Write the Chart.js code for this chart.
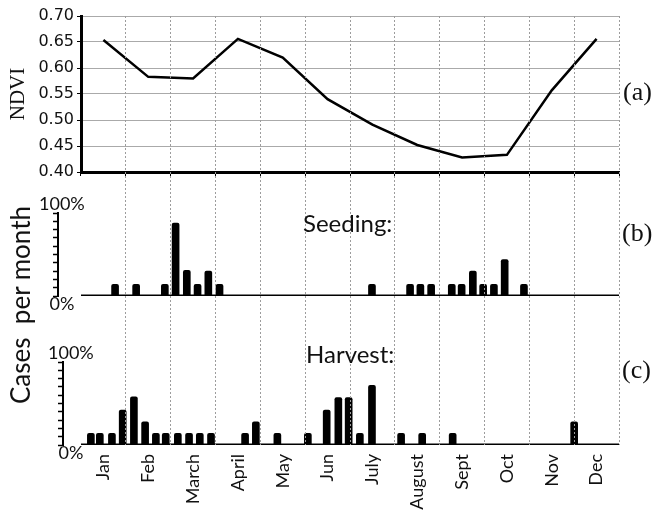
<!DOCTYPE html>
<html><head><meta charset="utf-8">
<script src="https://cdn.jsdelivr.net/npm/chart.js@4.4.0/dist/chart.umd.min.js"></script>
<style>
html,body{margin:0;padding:0;background:#fff;}
#wrap{position:relative;width:659px;height:521px;overflow:hidden;background:#fff;}
#wrap canvas{position:absolute;left:0;top:0;}
.t{position:absolute;white-space:pre;color:#111;line-height:1;}
</style></head><body>
<div id="wrap">
<canvas id="cA" width="659" height="521"></canvas>
<canvas id="cB" width="659" height="521"></canvas>
<canvas id="cC" width="659" height="521"></canvas>
<canvas id="cF" width="659" height="521"></canvas>
<div class="t" style="left:623px;top:77px;font:26px 'Liberation Serif';">(a)</div>
<div class="t" style="left:622px;top:218px;font:26px 'Liberation Serif';">(b)</div>
<div class="t" style="left:622px;top:355px;font:26px 'Liberation Serif';">(c)</div>
<div class="t" style="left:303px;top:208px;font:24px Lato;">Seeding:</div>
<div class="t" style="left:306px;top:339px;font:24px Lato;">Harvest:</div>
<div class="t" style="left:20px;top:305px;font:26px Lato;transform:translate(-50%,-50%) rotate(-90deg);">Cases  per month</div>
</div>
<script>
const months = ["Jan","Feb","March","April","May","Jun","July","August","Sept","Oct","Nov","Dec"];
const ndvi = [0.654,0.583,0.580,0.656,0.620,0.540,0.491,0.452,0.428,0.433,0.557,0.656];
const ndviTicks = [0.40,0.45,0.50,0.55,0.60,0.65,0.70];
// bar positions in months counted from 1 January (0 = start of Jan, 12 = end of Dec)
const seedingPos = [0.76,1.23,1.87,2.11,2.36,2.60,2.84,3.09,6.49,7.34,7.57,7.81,8.27,8.49,8.74,8.97,9.21,9.45,9.88];
const seedingPct = [14,14,14,88,31,14,30,14,14,14,14,14,14,14,30,14,14,44,14];
const harvestPos = [0.22,0.42,0.69,0.93,1.18,1.43,1.67,1.89,2.16,2.41,2.65,2.90,3.66,3.90,4.38,5.06,5.48,5.74,5.97,6.22,6.49,7.14,7.61,8.29,11.00];
const harvestPct = [14,14,14,42,58,28,14,14,14,14,14,14,14,28,14,14,42,57,57,14,72,14,14,14,28];
const pctTicks = [0,10,20,30,40,50,60,70,80,90,100];

Chart.defaults.font.family = 'Lato';
Chart.defaults.color = '#111';
const W = 659, H = 521;
const plotL = 81, plotR = 619;
const monthW = (plotR - plotL) / months.length;
const common = {responsive:false, animation:false, devicePixelRatio:1,
  plugins:{legend:{display:false}, tooltip:{enabled:false}, title:{display:false}}};

// (a) NDVI
new Chart(document.getElementById('cA'), {
  type:'line',
  data:{labels:months, datasets:[{data:ndvi, borderColor:'#000', borderWidth:2.5, pointRadius:0, tension:0, fill:false}]},
  options:Object.assign({}, common, {
    layout:{padding:{left:0, right:W-plotR, top:16, bottom:0}},
    scales:{
      x:{type:'category', offset:true,
         grid:{display:true, offset:true, drawOnChartArea:false, drawTicks:true, tickLength:4, color:'#000', tickColor:'#000', lineWidth:1},
         border:{display:true, color:'#000', width:3},
         ticks:{display:false},
         afterFit:s=>{s.height = H - 172;}},
      y:{min:0.40, max:0.70,
         afterBuildTicks:s=>{s.ticks = ndviTicks.map(v=>({value:v}));},
         ticks:{callback:v=>Number(v).toFixed(2), font:{family:'DejaVu Sans', size:16}, color:'#111', padding:3},
         grid:{color:'#aaa', lineWidth:1, tickColor:'#000', tickLength:4},
         border:{color:'#000', width:3},
         title:{display:true, text:'NDVI', font:{family:'Liberation Serif', size:21}, color:'#111', padding:{top:6, bottom:0}},
         afterFit:s=>{s.width = plotL;}}
    }
  })
});

function barPanel(id, pos, pct, axisX, top, bottom, labPad){
  const xMin = -(plotL - axisX) / monthW;
  return new Chart(document.getElementById(id), {
    type:'bar',
    data:{datasets:[
      {type:'line', data:[{x:0,y:0},{x:months.length,y:0}], borderColor:'#000', borderWidth:3, pointRadius:0, order:0},
      {type:'bar', data:pos.map((x,i)=>({x:x, y:pct[i]})), backgroundColor:'#000', barThickness:7,
       borderRadius:{topLeft:2, topRight:2, bottomLeft:0, bottomRight:0}, borderSkipped:'bottom', order:1}
    ]},
    options:Object.assign({}, common, {
      layout:{padding:{left:0, right:W-plotR, top:top, bottom:H-bottom}},
      scales:{
        x:{type:'linear', min:xMin, max:months.length, offset:false, display:false, grid:{offset:false}},
        y:{min:0, max:100, position:'left',
           afterBuildTicks:s=>{s.ticks = pctTicks.map(v=>({value:v}));},
           ticks:{autoSkip:false, mirror:true, crossAlign:'center', padding:labPad, color:'#111',
                  font:{family:'Lato', size:18, lineHeight:0.95},
                  callback:v=> v===100 ? ['100%',''] : (v===0 ? ['','0%'] : '')},
           grid:{drawOnChartArea:false, tickLength:5, tickColor:'#000', color:'#000', tickWidth:1.5},
           border:{color:'#000', width:2},
           afterFit:s=>{s.width = axisX;}}
      }
    })
  });
}
barPanel('cB', seedingPos, seedingPct, 58, 213, 296, -19);
barPanel('cC', harvestPos, harvestPct, 63, 362, 445, -15);

// month frame: dashed month boundaries + month labels
new Chart(document.getElementById('cF'), {
  type:'line',
  data:{labels:months, datasets:[]},
  options:Object.assign({}, common, {
    layout:{padding:{left:plotL, right:W-plotR, top:16, bottom:0}},
    scales:{
      x:{type:'category', offset:true, min:0, max:months.length-1,
         grid:{offset:true, drawTicks:false, lineWidth:1, color:c=> c.index===0 ? 'rgba(0,0,0,0)' : '#9c9c9c'},
         border:{display:false, dash:[2,2]},
         ticks:{autoSkip:false, minRotation:90, maxRotation:90, padding:9, font:{family:'Lato', size:18}, color:'#111'},
         afterFit:s=>{s.height = H - 445;}},
      y:{display:false}
    }
  })
});
</script>
</body></html>
